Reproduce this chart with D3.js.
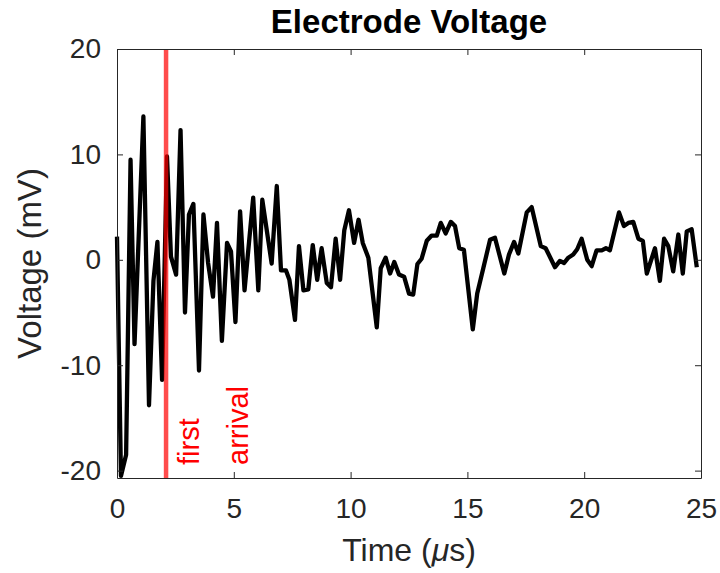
<!DOCTYPE html>
<html>
<head>
<meta charset="utf-8">
<script src="https://cdn.jsdelivr.net/npm/d3@7"></script>
<style>
body { margin: 0; background: #ffffff; }
svg { display: block; font-family: "Liberation Sans", Arial, sans-serif; }
</style>
</head>
<body>
<script>
const width = 720;
const height = 573;
const plotLeft = 117, plotRight = 701, plotTop = 49, plotBottom = 478;

// sample times (microseconds)
const times = [0, 0.17, 0.39, 0.58, 0.75, 1.13, 1.37, 1.56, 1.73, 1.93,
    2.14, 2.31, 2.53, 2.72, 2.91, 3.08, 3.27, 3.51, 3.70, 3.90,
    4.11, 4.28, 4.49, 4.71, 4.88, 5.07, 5.27, 5.46, 5.83, 6.05,
    6.22, 6.62, 6.84, 7.02, 7.23, 7.38, 7.62, 7.79, 7.98, 8.19,
    8.38, 8.57, 8.76, 8.98, 9.16, 9.36, 9.55, 9.73, 9.93, 10.15,
    10.34, 10.52, 10.76, 11.12, 11.29, 11.50, 11.69, 11.87, 12.07, 12.29,
    12.50, 12.68, 12.86, 13.04, 13.26, 13.47, 13.69, 13.86, 14.07, 14.29,
    14.47, 14.65, 14.85, 15.23, 15.42, 15.68, 15.97, 16.18, 16.58, 16.78,
    17.00, 17.18, 17.54, 17.75, 18.14, 18.35, 18.75, 18.96, 19.14, 19.32,
    19.53, 19.70, 19.89, 20.13, 20.32, 20.53, 20.75, 20.93, 21.10, 21.49,
    21.70, 21.89, 22.10, 22.32, 22.51, 22.68, 23.03, 23.24, 23.42, 23.60,
    23.81, 24.03, 24.22, 24.39, 24.60, 24.82];
// electrode voltage (mV)
const voltages = [2.2, -20.5, -18.5, 9.5, -8.0, 13.6, -13.8, -2.0, 1.7, -11.4,
    9.8, 0.3, -1.4, 12.3, -5.0, 4.3, 5.3, -10.5, 4.3, -0.3,
    -3.5, 3.5, -7.7, 1.6, 0.8, -5.9, 4.6, -2.9, 5.9, -2.9,
    5.7, -0.35, 7.0, -1.0, -1.0, -1.9, -5.7, 1.3, -2.9, -2.8,
    1.4, -1.9, 1.1, -2.2, -2.6, 2.0, -1.9, 2.8, 4.7, 1.6,
    3.8, 1.6, 0.2, -6.4, -0.8, 0.2, -1.3, -0.2, -1.4, -1.6,
    -3.2, -3.3, -0.4, 0.1, 1.8, 2.3, 2.3, 3.5, 2.5, 3.6,
    3.2, 1.1, 0.95, -6.6, -3.2, -0.8, 1.9, 2.1, -1.3, 0.5,
    1.7, 0.6, 4.5, 5.0, 1.3, 1.1, -0.7, -0.1, -0.3, 0.2,
    0.5, 1.0, 2.0, 0.0, -0.6, 0.9, 0.9, 1.1, 0.9, 4.5,
    3.2, 3.5, 3.6, 2.0, 1.8, -1.3, 1.1, -2.0, 2.0, 1.3,
    -1.1, 2.4, -1.3, 2.7, 2.9, -0.7];

const xTicks = [0, 5, 10, 15, 20, 25];
const yTicks = [-20, -10, 0, 10, 20];
const xDomain = [0, 25];
const yDomain = [-20.7, 20];
const arrivalTime = [2.1];
const arrivalWords = ["first", "arrival"];
const arrivalWordTimes = [3.52, 5.62];

var svg, x_scale, y_scale;

function generateScale() {
    x_scale = d3.scaleLinear().domain(xDomain).range([plotLeft, plotRight]);
    y_scale = d3.scaleLinear().domain(yDomain).range([plotBottom, plotTop]);
}

function styleAxis(g) {
    g.selectAll("path").attr("stroke", "#262626").attr("stroke-width", 1);
    g.selectAll("line").attr("stroke", "#262626").attr("stroke-width", 1);
    g.selectAll("text").attr("fill", "#262626").style("font-size", "28px");
}

// plain hyphen for negatives, like the original figure
const plainFormat = (d) => String(d);

function generateAxis() {
    svg.append("g")
        .attr("transform", "translate(0," + plotBottom + ")")
        .call(d3.axisBottom(x_scale).tickValues(xTicks).tickFormat(plainFormat).tickSizeInner(-6).tickSizeOuter(0).tickPadding(20))
        .call(styleAxis);
    svg.append("g")
        .attr("transform", "translate(0," + plotTop + ")")
        .call(d3.axisTop(x_scale).tickValues(xTicks).tickSizeInner(-6).tickSizeOuter(0).tickFormat(""))
        .call(styleAxis);
    svg.append("g")
        .attr("transform", "translate(" + plotLeft + ",0)")
        .call(d3.axisLeft(y_scale).tickValues(yTicks).tickFormat(plainFormat).tickSizeInner(-6).tickSizeOuter(0).tickPadding(16))
        .call(styleAxis);
    svg.append("g")
        .attr("transform", "translate(" + plotRight + ",0)")
        .call(d3.axisRight(y_scale).tickValues(yTicks).tickSizeInner(-6).tickSizeOuter(0).tickFormat(""))
        .call(styleAxis);

    // axis labels
    var xl = svg.append("text")
        .attr("x", (plotLeft + plotRight) / 2)
        .attr("y", 561)
        .attr("text-anchor", "middle")
        .attr("fill", "#262626")
        .style("font-size", "32px");
    xl.append("tspan").text("Time (");
    xl.append("tspan").style("font-style", "italic").text("\u03bc");
    xl.append("tspan").text("s)");

    svg.append("text")
        .attr("transform", "translate(41," + ((plotTop + plotBottom) / 2) + ") rotate(-90)")
        .attr("text-anchor", "middle")
        .attr("fill", "#262626")
        .style("font-size", "33px")
        .text("Voltage (mV)");
}

function generateTitle() {
    svg.append("text")
        .attr("x", (plotLeft + plotRight) / 2)
        .attr("y", 33)
        .attr("text-anchor", "middle")
        .attr("fill", "#000")
        .style("font-size", "33px")
        .style("font-weight", "bold")
        .text("Electrode Voltage");
}

function generateLine() {
    var line = d3.line()
        .x((d, i) => x_scale(times[i]))
        .y((d) => y_scale(d));
    svg.append("path")
        .datum(voltages)
        .attr("d", line)
        .attr("fill", "none")
        .attr("stroke", "#000")
        .attr("stroke-width", 4.3)
        .attr("stroke-linejoin", "round");
}

function generateArrival() {
    svg.selectAll(".arrival")
        .data(arrivalTime)
        .enter()
        .append("line")
        .attr("class", "arrival")
        .attr("x1", (d) => x_scale(d))
        .attr("x2", (d) => x_scale(d))
        .attr("y1", plotTop)
        .attr("y2", plotBottom)
        .attr("stroke", "red")
        .attr("stroke-opacity", 0.7)
        .attr("stroke-width", 4.5);

    svg.selectAll(".arrival-text")
        .data(arrivalWords)
        .enter()
        .append("text")
        .attr("class", "arrival-text")
        .attr("transform", (d, i) => "translate(" + x_scale(arrivalWordTimes[i]) + "," + (plotBottom - 13) + ") rotate(-90)")
        .attr("fill", "red")
        .style("font-size", "29px")
        .text((d) => d);
}

document.addEventListener("DOMContentLoaded", function () {
    svg = d3.select("body")
        .append("svg")
        .attr("width", width)
        .attr("height", height);
    generateScale();
    generateLine();
    generateArrival();
    generateAxis();
    generateTitle();
});
</script>
</body>
</html>
